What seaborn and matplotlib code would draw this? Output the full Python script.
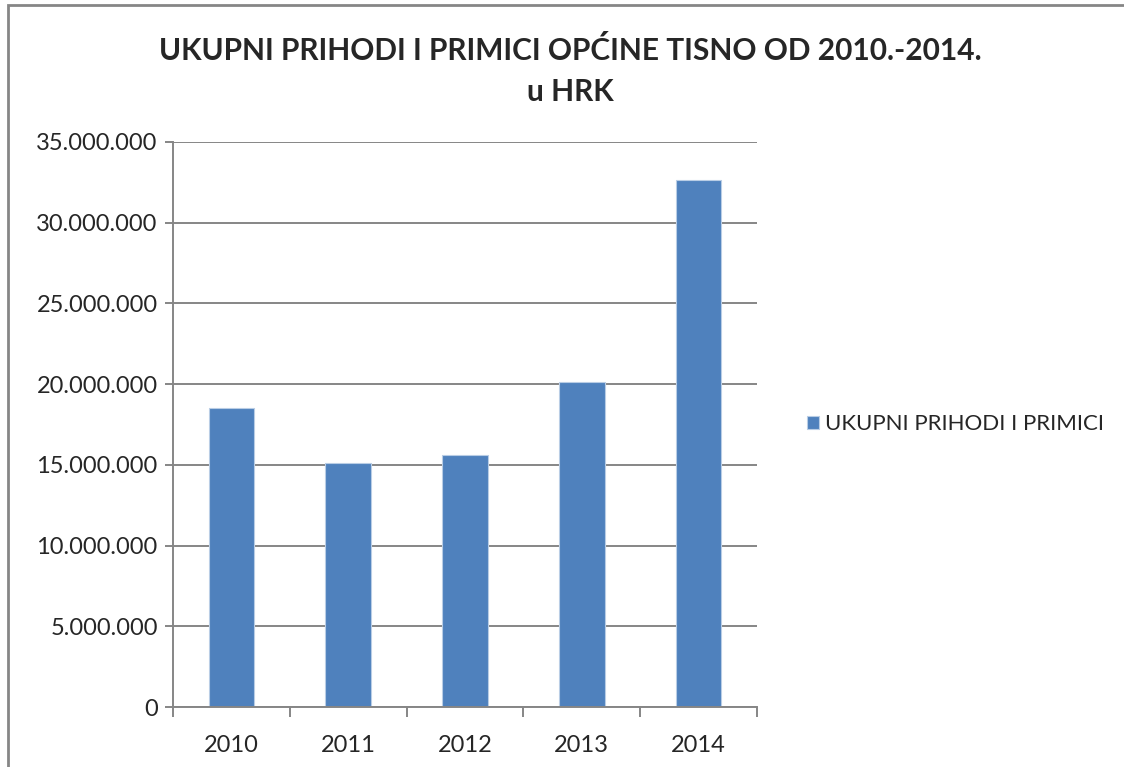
import pandas as pd
import matplotlib.pyplot as plt
import matplotlib.ticker as mticker
from matplotlib.patches import Rectangle
import seaborn as sns

years = ['2010', '2011', '2012', '2013', '2014']
values = [18520000, 15110000, 15610000, 20140000, 32660000]
series_name = 'UKUPNI PRIHODI I PRIMICI'

df = pd.DataFrame({'Godina': years, 'Iznos': values, 'Serija': series_name})

sns.set_style('white')
plt.rcParams['font.family'] = ['Lato', 'DejaVu Sans']

fig = plt.figure(figsize=(11.24, 7.67), dpi=100)
ax = fig.add_axes([173 / 1124, 1 - 707 / 767, (757 - 173) / 1124, (707 - 142) / 767])

sns.barplot(data=df, x='Godina', y='Iznos', hue='Serija', palette=['#4f81bd'], saturation=1,
            width=0.39, edgecolor='#b9cde5', linewidth=0.8, ax=ax, legend=True)

grid_c = '#868686'
ax.set_ylim(0, 35000000)
ax.set_xlim(-0.5, 4.5)
ax.yaxis.set_major_locator(mticker.MultipleLocator(5000000))
ax.yaxis.set_major_formatter(mticker.FuncFormatter(lambda v, p: f'{int(v):,}'.replace(',', '.')))
ax.yaxis.grid(True, color=grid_c, linewidth=1.4)
ax.set_axisbelow(True)
for s in ['top', 'right']:
    ax.spines[s].set_visible(False)
ax.spines['left'].set_color(grid_c)
ax.spines['left'].set_linewidth(1.4)
ax.spines['bottom'].set_color(grid_c)
ax.spines['bottom'].set_linewidth(1.4)

ax.tick_params(axis='y', which='major', length=6, width=1.4, color=grid_c, labelsize=17, pad=5, left=True)
ax.tick_params(axis='x', which='major', length=0, labelsize=17, pad=20)
ax.xaxis.set_minor_locator(mticker.FixedLocator([-0.5, 0.5, 1.5, 2.5, 3.5, 4.5]))
ax.tick_params(axis='x', which='minor', length=7, width=1.4, color=grid_c, bottom=True)
ax.set_xlabel('')
ax.set_ylabel('')

ax.legend(loc='center left', bbox_to_anchor=(1.07, 0.5), frameon=False, fontsize=16,
          handlelength=0.55, handleheight=0.55, handletextpad=0.25, borderaxespad=0)

fig.text(0.507, 1 - 50 / 767, 'UKUPNI PRIHODI I PRIMICI OPĆINE TISNO OD 2010.-2014.',
         ha='center', va='center', fontsize=21.5, fontweight='bold')
fig.text(0.507, 1 - 92 / 767, 'u HRK', ha='center', va='center', fontsize=21.5, fontweight='bold')

fig.patches.append(Rectangle((8 / 1124, -0.1), 1.2, 1 - 5 / 767 + 0.1, transform=fig.transFigure,
                             fill=False, edgecolor='#868686', linewidth=2))

fig.savefig('out.png', dpi=100)
